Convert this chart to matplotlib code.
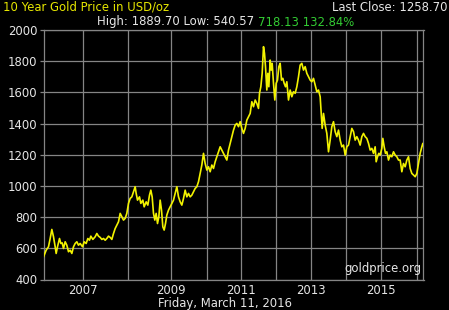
import matplotlib
matplotlib.use("Agg")
import matplotlib.pyplot as plt

# chart sample position (trading-sample index) and price in USD/oz
sample_idx = [0, 8, 15, 20, 25, 30, 35, 38, 42, 48, 52, 56, 60, 65, 70, 75, 80, 85, 90, 95,
              100, 105, 110, 117, 122, 128, 133, 138, 142, 148, 155, 160, 165, 170, 175, 180,
              185, 190, 195, 200, 205, 210, 215, 220, 225, 230, 235, 240, 245, 250, 255, 260,
              265, 270, 275, 278, 282, 288, 292, 298, 302, 308, 313, 318, 322, 326, 330, 334,
              338, 342, 346, 350, 354, 358, 362, 366, 370, 375, 380, 385, 390, 395, 400, 405,
              410, 415, 420, 425, 430, 435, 440, 445, 450, 455, 460, 465, 470, 475, 480, 485,
              490, 495, 500, 505, 510, 515, 520, 525, 530, 535, 540, 545, 550, 555, 560, 565,
              570, 575, 580, 585, 590, 595, 600, 605, 610, 615, 620, 625, 630, 635, 640, 645,
              648, 652, 656, 660, 663, 666, 670, 673, 676, 680, 683, 686, 690, 694, 698, 702,
              706, 710, 714, 718, 722, 726, 730, 735, 740, 745, 750, 755, 760, 765, 770, 775,
              780, 785, 790, 795, 800, 805, 810, 815, 820, 825, 830, 833, 836, 840, 845, 850,
              855, 860, 865, 870, 875, 880, 885, 890, 895, 900, 905, 910, 915, 920, 925, 930,
              935, 940, 945, 950, 955, 960, 965, 970, 975, 980, 985, 990, 995, 998, 1002, 1006,
              1010, 1015, 1018, 1022, 1026, 1030, 1035, 1040, 1045, 1050, 1055, 1060, 1065,
              1070, 1075, 1080, 1085, 1090, 1095, 1100, 1105, 1110, 1115, 1120, 1125, 1130,
              1135, 1138, 1140]
price = [545, 588, 610, 663, 721, 674, 610, 567, 610, 663, 631, 635, 599, 642, 620, 578, 588,
         567, 610, 631, 642, 620, 631, 610, 642, 631, 663, 652, 678, 657, 674, 695, 678, 670,
         657, 663, 652, 663, 678, 670, 657, 695, 727, 749, 770, 824, 802, 781, 792, 824, 888,
         920, 930, 963, 995, 952, 909, 930, 888, 909, 866, 898, 877, 941, 973, 930, 824, 781,
         824, 759, 802, 909, 845, 738, 717, 759, 813, 845, 866, 888, 909, 952, 995, 930, 898,
         877, 920, 973, 930, 952, 930, 941, 963, 984, 995, 1027, 1080, 1134, 1209, 1144, 1102,
         1123, 1091, 1134, 1112, 1155, 1187, 1219, 1251, 1230, 1209, 1187, 1166, 1230, 1273,
         1316, 1358, 1390, 1401, 1380, 1412, 1369, 1337, 1369, 1422, 1444, 1465, 1540, 1508,
         1551, 1529, 1497, 1594, 1636, 1722, 1893, 1850, 1765, 1615, 1722, 1636, 1807, 1743,
         1786, 1658, 1551, 1658, 1679, 1765, 1786, 1679, 1690, 1658, 1636, 1668, 1551, 1615,
         1572, 1604, 1594, 1636, 1700, 1775, 1786, 1743, 1765, 1722, 1700, 1679, 1668, 1690,
         1647, 1604, 1615, 1572, 1465, 1369, 1465, 1390, 1337, 1219, 1294, 1380, 1412, 1348,
         1316, 1358, 1294, 1251, 1262, 1198, 1251, 1262, 1316, 1369, 1348, 1294, 1316, 1294,
         1262, 1316, 1337, 1316, 1305, 1273, 1230, 1241, 1209, 1251, 1155, 1187, 1209, 1198,
         1241, 1305, 1251, 1209, 1219, 1166, 1198, 1187, 1219, 1198, 1187, 1166, 1166, 1091,
         1144, 1123, 1166, 1187, 1112, 1080, 1070, 1059, 1080, 1144, 1209, 1251, 1273, 1259]

year_tick_idx = [117, 252, 382, 490, 592, 696, 802, 907, 1013, 1120]
year_labels = ["2007", "", "2009", "", "2011", "", "2013", "", "2015", ""]
y_ticks = [400, 600, 800, 1000, 1200, 1400, 1600, 1800, 2000]

title = "10 Year Gold Price in USD/oz"
last_close = "Last Close: 1258.70"
high_low = "High: 1889.70 Low: 540.57"
change = "718.13 132.84%"
date_str = "Friday, March 11, 2016"
source = "goldprice.org"

W, H = 449, 310
fig = plt.figure(figsize=(W / 100, H / 100), dpi=100, facecolor="black")
ax = fig.add_axes([43.5 / W, 1 - 279.5 / H, 380 / W, 249.5 / H], facecolor="black")

txt_col = "#e6e6e6"
grid_col = "#858585"
fs = 8.4

ax.plot(sample_idx, price, color="#f2f200", lw=1.2, zorder=3)
ax.set_xlim(0, 1140)
ax.set_ylim(400, 2000)
ax.set_yticks(y_ticks)
ax.set_yticklabels([str(v) for v in y_ticks])
ax.set_xticks(year_tick_idx)
ax.set_xticklabels(year_labels)
ax.grid(True, color=grid_col, lw=0.9)
ax.tick_params(axis="y", colors=grid_col, labelcolor=txt_col, labelsize=fs, length=3, pad=1.5, width=0.9)
ax.tick_params(axis="x", colors=grid_col, labelcolor=txt_col, labelsize=fs, length=0, pad=3)
for s in ax.spines.values():
    s.set_color(grid_col)
    s.set_linewidth(0.9)

ax.text(0.995, 0.02, source, transform=ax.transAxes, ha="right", va="bottom",
        color=txt_col, fontsize=fs, zorder=4)

fig.text(3 / W, 1 - 7.5 / H, title, color="#e6e600", fontsize=fs, ha="left", va="center")
fig.text(447 / W, 1 - 7.5 / H, last_close, color=txt_col, fontsize=fs, ha="right", va="center")
fig.text(254 / W, 1 - 22 / H, high_low, color=txt_col, fontsize=fs, ha="right", va="center")
fig.text(257.5 / W, 1 - 22 / H, change, color="#33cc33", fontsize=fs, ha="left", va="center")
fig.text(225 / W, 1 - 303 / H, date_str, color=txt_col, fontsize=fs, ha="center", va="center")

fig.savefig("out.png", dpi=100, facecolor="black")
